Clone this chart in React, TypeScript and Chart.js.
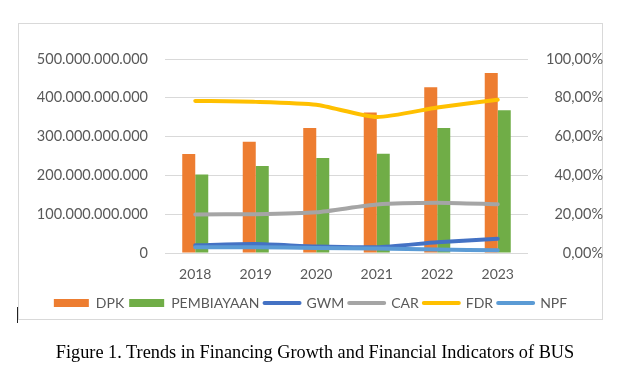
import React, { useEffect, useRef } from "react";
import { Chart, registerables } from "chart.js";

Chart.register(...registerables);

const years = ["2018", "2019", "2020", "2021", "2022", "2023"];
const dpk = [255e9, 287e9, 322e9, 362e9, 427e9, 464e9];
const pembiayaan = [202e9, 224e9, 245e9, 256e9, 322e9, 368e9];
const gwm = [4.0, 4.6, 3.3, 3.0, 5.5, 7.3];
const car = [19.9, 20.0, 21.0, 25.0, 25.9, 25.1];
const fdr = [78.4, 77.9, 76.4, 70.1, 75.0, 79.0];
const npf = [3.0, 3.0, 2.6, 2.3, 1.8, 1.4];

const caption = "Figure 1. Trends in Financing Growth and Financial Indicators of BUS";

const FONT = "Lato";
const TXT = "#595959";

function fmtBig(v: number): string {
  return String(Math.round(v)).replace(/\B(?=(\d{3})+(?!\d))/g, ".");
}
function fmtPct(v: number): string {
  return v.toFixed(2).replace(".", ",") + "%";
}

export default function App() {
  const ref = useRef<HTMLCanvasElement | null>(null);

  useEffect(() => {
    if (!ref.current) return;
    const lineDs = (label: string, data: number[], color: string, order: number) => ({
      type: "line" as const,
      label,
      data,
      yAxisID: "y1",
      borderColor: color,
      backgroundColor: color,
      borderWidth: 4,
      borderCapStyle: "round" as const,
      pointRadius: 0,
      tension: 0.2,
      fill: false,
      order,
    });
    const chart = new Chart(ref.current, {
      type: "bar",
      data: {
        labels: years,
        datasets: [
          {
            type: "bar",
            label: "DPK",
            data: dpk,
            yAxisID: "y",
            backgroundColor: "#ED7D31",
            categoryPercentage: 0.43,
            barPercentage: 1.0,
            order: 9,
          },
          {
            type: "bar",
            label: "PEMBIAYAAN",
            data: pembiayaan,
            yAxisID: "y",
            backgroundColor: "#70AD47",
            categoryPercentage: 0.43,
            barPercentage: 1.0,
            order: 10,
          },
          lineDs("GWM", gwm, "#4472C4", 4),
          lineDs("CAR", car, "#A5A5A5", 3),
          lineDs("FDR", fdr, "#FFC000", 2),
          lineDs("NPF", npf, "#5B9BD5", 1),
        ] as any,
      },
      options: {
        responsive: false,
        animation: false,
        layout: { padding: { top: 36, bottom: 0, left: 0, right: 0 } },
        plugins: {
          tooltip: { enabled: false },
          legend: {
            position: "bottom",
            labels: {
              font: { family: FONT, size: 14 },
              color: TXT,
              usePointStyle: true,
              pointStyleWidth: 35,
              boxWidth: 35,
              boxHeight: 8,
              padding: 5,
              generateLabels: (ch: any) =>
                ch.data.datasets.map((ds: any, i: number) => {
                  const isLine = ds.type === "line";
                  return {
                    text: ds.label,
                    fillStyle: ds.backgroundColor,
                    strokeStyle: isLine ? ds.borderColor : ds.backgroundColor,
                    lineWidth: isLine ? 4 : 0,
                    lineCap: "round",
                    pointStyle: isLine ? "line" : "rect",
                    hidden: false,
                    datasetIndex: i,
                    fontColor: TXT,
                  };
                }),
            },
          },
        },
        scales: {
          x: {
            grid: { display: false, drawTicks: false },
            border: { display: false },
            ticks: { font: { family: FONT, size: 14 }, color: TXT, padding: 13 },
            afterFit: (s: any) => {
              s.height = 38;
            },
          },
          y: {
            position: "left",
            min: 0,
            max: 500e9,
            grid: { color: "#D9D9D9", lineWidth: 1, drawTicks: false },
            border: { display: false },
            ticks: {
              stepSize: 100e9,
              font: { family: FONT, size: 14.5 },
              color: TXT,
              padding: 17,
              callback: (v: any) => fmtBig(Number(v)),
            },
            afterFit: (s: any) => {
              s.width = 147;
            },
          },
          y1: {
            position: "right",
            min: 0,
            max: 100,
            grid: { display: false, drawTicks: false },
            border: { display: false },
            ticks: {
              stepSize: 20,
              font: { family: FONT, size: 14.5 },
              color: TXT,
              padding: 17,
              crossAlign: "far",
              callback: (v: any) => fmtPct(Number(v)),
            },
            afterFit: (s: any) => {
              s.width = 75;
            },
          },
        },
      } as any,
    });
    return () => chart.destroy();
  }, []);

  return (
    <div style={{ position: "fixed", left: 0, top: 0, width: 617, height: 377, background: "#fff" }}>
      <div
        style={{
          position: "absolute",
          left: 18,
          top: 23,
          width: 585,
          height: 297,
          border: "1px solid #D9D9D9",
          boxSizing: "border-box",
        }}
      />
      <canvas
        ref={ref}
        width={585}
        height={297}
        style={{ position: "absolute", left: 18, top: 23, width: 585, height: 297 }}
      />
      <div style={{ position: "absolute", left: 17, top: 307, width: 1, height: 16, background: "#222" }} />
      <div
        style={{
          position: "absolute",
          left: 0,
          top: 341,
          width: 630,
          textAlign: "center",
          fontFamily: "'Liberation Serif', 'Times New Roman', serif",
          fontSize: 18.3,
          lineHeight: "22px",
          color: "#000",
        }}
      >
        {caption}
      </div>
    </div>
  );
}
